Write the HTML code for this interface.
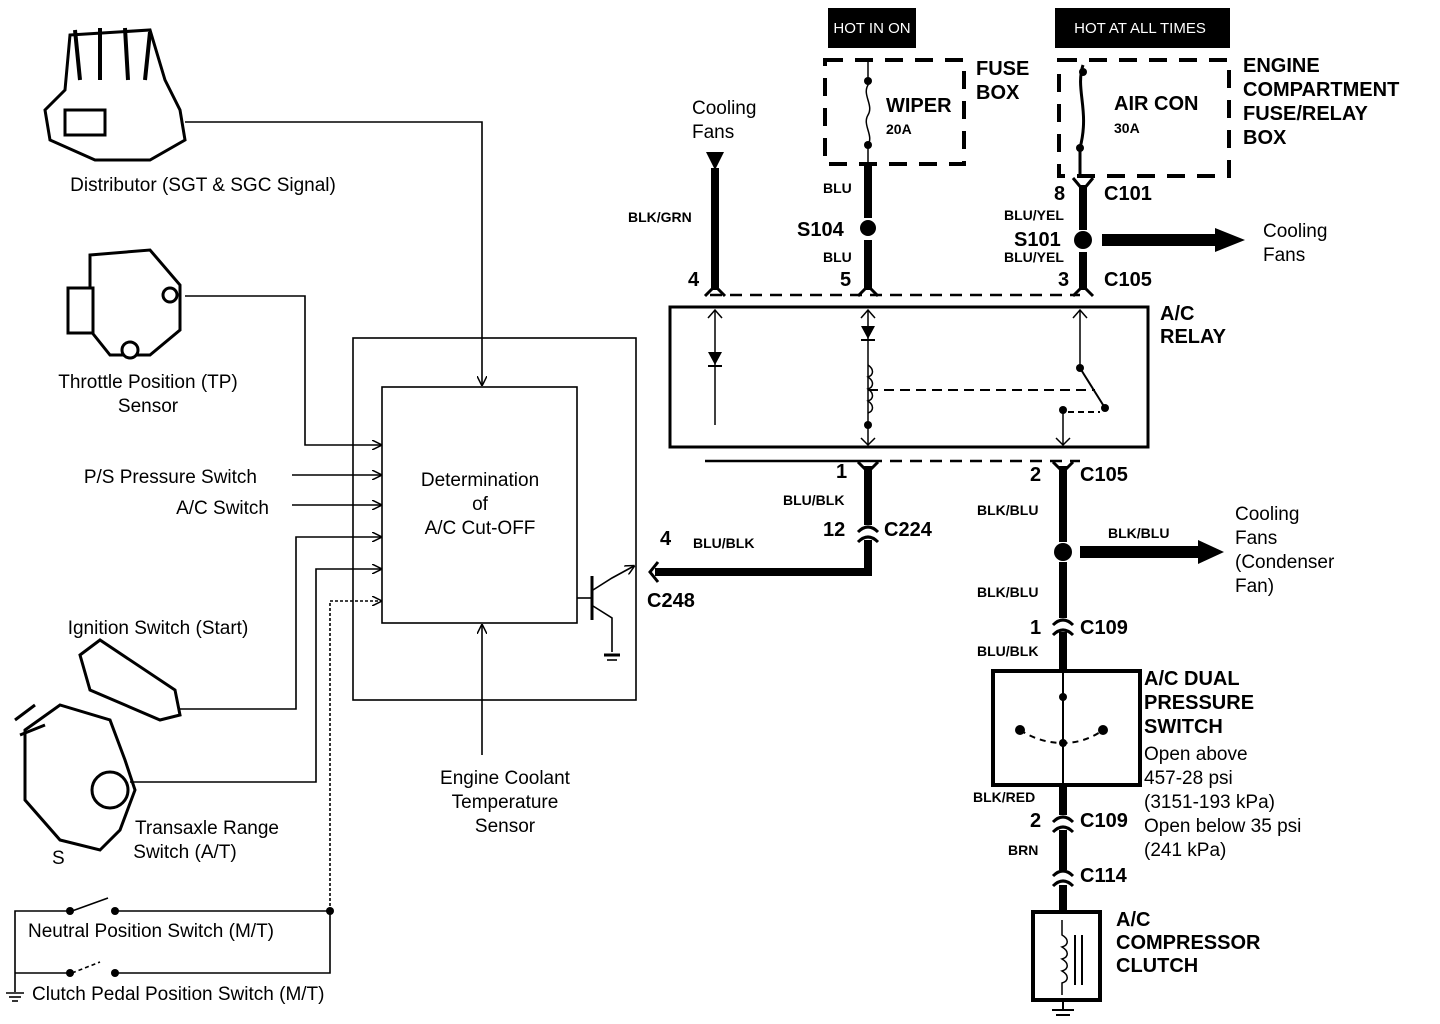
<!DOCTYPE html>
<html><head><meta charset="utf-8"><style>
body{margin:0;background:#fff}
svg{display:block}
text{font-family:"Liberation Sans",Arial,sans-serif;fill:#000}
.b{font-weight:bold;font-size:20px}
.w{font-weight:bold;font-size:14px}
.n{font-size:19px}
.t{font-size:15px;fill:#fff}
</style></head><body>
<svg width="1440" height="1024" viewBox="0 0 1440 1024" xmlns="http://www.w3.org/2000/svg">
<defs>
<marker id="a" markerWidth="10" markerHeight="10" refX="9" refY="5" orient="auto" markerUnits="userSpaceOnUse"><path d="M0,0 L10,5 L0,10" fill="none" stroke="#000" stroke-width="1.5"/></marker>
</defs>
<g fill="none" stroke="#000" stroke-width="1.6">
<!-- left component images (approx line art) -->
<g fill="#fff" stroke="#000" stroke-width="3">
<path d="M70,35 L150,30 L165,80 L180,110 L185,140 L150,160 L95,160 L50,140 L45,110 L65,90 Z"/>
<path d="M75,30 L80,80 M100,28 L100,80 M125,28 L128,80 M150,32 L145,80" stroke-width="4"/>
<rect x="65" y="110" width="40" height="25"/>
<path d="M90,255 L150,250 L180,285 L180,330 L150,355 L110,355 L90,330 Z"/>
<rect x="68" y="288" width="25" height="45"/>
<circle cx="130" cy="350" r="8"/><circle cx="170" cy="295" r="7"/>
<path d="M80,655 L100,640 L175,690 L180,715 L160,720 L90,690 Z"/>
<path d="M25,730 L60,705 L110,720 L125,760 L135,790 L120,830 L100,850 L60,840 L25,800 Z"/>
<circle cx="110" cy="790" r="18"/>
<path d="M15,720 L35,705 M20,735 L45,725"/>
</g>
<!-- wires to ECM -->
<polyline points="185,122 482,122 482,385" marker-end="url(#a)"/>
<polyline points="185,296 305,296 305,445 381,445" marker-end="url(#a)"/>
<line x1="292" y1="475" x2="381" y2="475" marker-end="url(#a)"/>
<line x1="292" y1="505" x2="381" y2="505" marker-end="url(#a)"/>
<polyline points="180,709 296,709 296,537 381,537" marker-end="url(#a)"/>
<polyline points="130,782 316,782 316,569 381,569" marker-end="url(#a)"/>
<polyline points="330,911 330,601 381,601" stroke-dasharray="3,2" marker-end="url(#a)"/>
<polyline points="330,911 330,973 115,973"/>
<line x1="115" y1="911" x2="330" y2="911"/>
<polyline points="70,911 15,911 15,992"/>
<line x1="15" y1="973" x2="70" y2="973"/>
<line x1="72" y1="911" x2="108" y2="898"/>
<line x1="72" y1="973" x2="100" y2="962" stroke-dasharray="4,3"/>
<line x1="6" y1="993" x2="24" y2="993"/><line x1="9" y1="997" x2="21" y2="997"/><line x1="12" y1="1001" x2="18" y2="1001"/>
<!-- ECM boxes -->
<rect x="353" y="338" width="283" height="362"/>
<rect x="382" y="387" width="195" height="236"/>
<line x1="482" y1="755" x2="482" y2="625" marker-end="url(#a)"/>
<!-- transistor -->
<line x1="577" y1="598" x2="591" y2="598"/>
<line x1="592" y1="576" x2="592" y2="620" stroke-width="3"/>
<polyline points="593,590 612,578 634,566" marker-end="url(#a)"/>
<polyline points="593,606 612,618 612,652"/>
<line x1="604" y1="655" x2="620" y2="655" stroke-width="3"/><line x1="607" y1="660" x2="617" y2="660"/>
</g>
<g fill="#000">
<circle cx="70" cy="911" r="4"/><circle cx="115" cy="911" r="4"/>
<circle cx="70" cy="973" r="4"/><circle cx="115" cy="973" r="4"/>
<circle cx="330" cy="911" r="4"/>
</g>
<!-- left labels -->
<text class="n" x="203" y="191" text-anchor="middle">Distributor (SGT &amp; SGC Signal)</text>
<text class="n" x="148" y="388" text-anchor="middle">Throttle Position (TP)</text>
<text class="n" x="148" y="412" text-anchor="middle">Sensor</text>
<text class="n" x="257" y="483" text-anchor="end">P/S Pressure Switch</text>
<text class="n" x="269" y="514" text-anchor="end">A/C Switch</text>
<text class="n" x="158" y="634" text-anchor="middle">Ignition Switch (Start)</text>
<text class="n" x="207" y="834" text-anchor="middle">Transaxle Range</text>
<text class="n" x="185" y="858" text-anchor="middle">Switch (A/T)</text>
<text class="n" x="52" y="864">S</text>
<text class="n" x="28" y="937">Neutral Position Switch (M/T)</text>
<text class="n" x="32" y="1000">Clutch Pedal Position Switch (M/T)</text>
<text class="n" x="480" y="486" text-anchor="middle">Determination</text>
<text class="n" x="480" y="510" text-anchor="middle">of</text>
<text class="n" x="480" y="534" text-anchor="middle">A/C Cut-OFF</text>
<text class="n" x="505" y="784" text-anchor="middle">Engine Coolant</text>
<text class="n" x="505" y="808" text-anchor="middle">Temperature</text>
<text class="n" x="505" y="832" text-anchor="middle">Sensor</text>

<!-- right side -->
<rect x="828" y="8" width="88" height="40" fill="#000"/>
<text class="t" x="872" y="33" text-anchor="middle">HOT IN ON</text>
<rect x="1055" y="8" width="175" height="40" fill="#000"/>
<text class="t" x="1140" y="33" text-anchor="middle">HOT AT ALL TIMES</text>
<g fill="none" stroke="#000">
<rect x="825" y="60" width="139" height="104" stroke-width="4" stroke-dasharray="18,12"/>
<rect x="1059" y="60" width="170" height="116" stroke-width="4" stroke-dasharray="18,12"/>
<path d="M868,60 L868,85 C862,95 874,105 868,115 C862,125 874,135 868,145 L868,165" stroke-width="1.5"/>
<path d="M1083,65 C1075,90 1090,110 1080,148 L1080,175" stroke-width="3"/>
<!-- thick wires -->
<line x1="715" y1="168" x2="715" y2="290" stroke-width="8"/>
<line x1="868" y1="165" x2="868" y2="218" stroke-width="8"/>
<line x1="868" y1="240" x2="868" y2="290" stroke-width="8"/>
<line x1="1083" y1="185" x2="1083" y2="230" stroke-width="8"/>
<line x1="1083" y1="252" x2="1083" y2="290" stroke-width="8"/>
<line x1="1102" y1="240" x2="1218" y2="240" stroke-width="12"/>
<line x1="710" y1="295" x2="1080" y2="295" stroke-width="2.5" stroke-dasharray="12,8"/>
<rect x="670" y="307" width="478" height="140" stroke-width="3"/>
<line x1="705" y1="461" x2="870" y2="461" stroke-width="2.5"/>
<line x1="870" y1="461" x2="1080" y2="461" stroke-width="2.5" stroke-dasharray="12,8"/>
<!-- relay internals -->
<line x1="715" y1="310" x2="715" y2="425" stroke-width="1.5"/>
<polyline points="708,318 715,310 722,318" stroke-width="1.5"/>
<line x1="868" y1="310" x2="868" y2="445" stroke-width="1.5"/>
<polyline points="861,318 868,310 875,318" stroke-width="1.5"/>
<polyline points="861,438 868,445 875,438" stroke-width="1.5"/>
<path d="M868,365 c6,4 6,10 0,12 c6,4 6,10 0,12 c6,4 6,10 0,12 c6,4 6,10 0,12" stroke-width="1.5"/>
<line x1="868" y1="390" x2="1095" y2="390" stroke-width="2" stroke-dasharray="10,6"/>
<line x1="1080" y1="310" x2="1080" y2="368" stroke-width="1.5"/>
<polyline points="1073,318 1080,310 1087,318" stroke-width="1.5"/>
<line x1="1080" y1="368" x2="1105" y2="408" stroke-width="2"/>
<line x1="1063" y1="410" x2="1063" y2="445" stroke-width="1.5"/>
<polyline points="1056,438 1063,445 1070,438" stroke-width="1.5"/>
<line x1="1068" y1="412" x2="1100" y2="412" stroke-width="2" stroke-dasharray="6,4"/>
<!-- lower wires -->
<line x1="868" y1="466" x2="868" y2="525" stroke-width="8"/>
<line x1="868" y1="540" x2="868" y2="572" stroke-width="8"/>
<line x1="655" y1="572" x2="872" y2="572" stroke-width="8"/>
<line x1="1063" y1="466" x2="1063" y2="542" stroke-width="8"/>
<line x1="1063" y1="562" x2="1063" y2="618" stroke-width="8"/>
<line x1="1063" y1="632" x2="1063" y2="671" stroke-width="8"/>
<line x1="1080" y1="552" x2="1200" y2="552" stroke-width="12"/>
<rect x="993" y="671" width="147" height="114" stroke-width="4"/>
<line x1="1063" y1="671" x2="1063" y2="785" stroke-width="2"/>
<path d="M1020,730 Q1040,743 1063,743 Q1085,743 1103,730" stroke-width="2" stroke-dasharray="6,5"/>
<line x1="1063" y1="785" x2="1063" y2="815" stroke-width="8"/>
<line x1="1063" y1="830" x2="1063" y2="870" stroke-width="8"/>
<line x1="1063" y1="885" x2="1063" y2="912" stroke-width="8"/>
<rect x="1033" y="912" width="67" height="88" stroke-width="4"/>
<path d="M1062,920 L1062,935 c7,4 7,10 0,12 c7,4 7,10 0,12 c7,4 7,10 0,12 c7,4 7,10 0,12 L1062,995" stroke-width="1.5"/>
<line x1="1075" y1="935" x2="1075" y2="985" stroke-width="2"/><line x1="1082" y1="935" x2="1082" y2="985" stroke-width="2"/>
<line x1="1063" y1="1000" x2="1063" y2="1010" stroke-width="2"/>
<line x1="1052" y1="1010" x2="1074" y2="1010" stroke-width="2"/><line x1="1056" y1="1015" x2="1070" y2="1015" stroke-width="2"/>
<!-- connector shapes -->
<g stroke-width="3">
<path d="M1073,178 L1083,190 L1093,178"/>
<path d="M1073,296 L1083,286 L1093,296"/>
<path d="M858,296 L868,286 L878,296"/>
<path d="M705,296 L715,286 L725,296"/>
<path d="M858,462 L868,472 L878,462"/>
<path d="M1053,462 L1063,472 L1073,462"/>
<path d="M858,532 Q868,522 878,532 M858,542 Q868,532 878,542"/>
<path d="M1053,625 Q1063,615 1073,625 M1053,635 Q1063,625 1073,635"/>
<path d="M1053,822 Q1063,812 1073,822 M1053,832 Q1063,822 1073,832"/>
<path d="M1053,876 Q1063,866 1073,876 M1053,886 Q1063,876 1073,886"/>
<path d="M658,562 L650,572 L658,582"/>
</g>
</g>
<g fill="#000">
<polygon points="706,152 724,152 715,170"/>
<circle cx="868" cy="228" r="8"/>
<circle cx="1083" cy="240" r="9"/>
<polygon points="1215,228 1245,240 1215,252"/>
<circle cx="1063" cy="552" r="9"/>
<polygon points="1198,540 1224,552 1198,564"/>
<circle cx="868" cy="81" r="4"/><circle cx="868" cy="145" r="4"/>
<circle cx="1083" cy="72" r="4"/><circle cx="1080" cy="148" r="4"/>
<polygon points="708,352 722,352 715,365"/><line x1="708" y1="366" x2="722" y2="366" stroke="#000" stroke-width="2"/>
<polygon points="861,326 875,326 868,339"/><line x1="861" y1="340" x2="875" y2="340" stroke="#000" stroke-width="2"/>
<circle cx="868" cy="425" r="4"/><circle cx="1080" cy="368" r="4"/><circle cx="1063" cy="410" r="4"/><circle cx="1105" cy="408" r="4"/>
<circle cx="1063" cy="697" r="4"/><circle cx="1020" cy="730" r="5"/><circle cx="1103" cy="730" r="5"/><circle cx="1063" cy="743" r="4"/>
</g>
<!-- right labels -->
<text class="b" x="976" y="75">FUSE</text><text class="b" x="976" y="99">BOX</text>
<text class="b" x="886" y="112">WIPER</text><text class="w" x="886" y="134" font-size="12">20A</text>
<text class="b" x="1114" y="110">AIR CON</text><text class="w" x="1114" y="133" font-size="12">30A</text>
<text class="b" x="1243" y="72" font-size="21">ENGINE</text><text class="b" x="1243" y="96" font-size="21">COMPARTMENT</text>
<text class="b" x="1243" y="120" font-size="21">FUSE/RELAY</text><text class="b" x="1243" y="144" font-size="21">BOX</text>
<text class="n" x="692" y="114">Cooling</text><text class="n" x="692" y="138">Fans</text>
<text class="w" x="628" y="222">BLK/GRN</text>
<text class="w" x="823" y="193">BLU</text>
<text class="b" x="797" y="236">S104</text>
<text class="w" x="823" y="262">BLU</text>
<text class="b" x="688" y="286">4</text><text class="b" x="840" y="286">5</text>
<text class="b" x="1054" y="200">8</text><text class="b" x="1104" y="200">C101</text>
<text class="w" x="1004" y="220">BLU/YEL</text>
<text class="b" x="1014" y="246">S101</text>
<text class="w" x="1004" y="262">BLU/YEL</text>
<text class="b" x="1058" y="286">3</text><text class="b" x="1104" y="286">C105</text>
<text class="n" x="1263" y="237">Cooling</text><text class="n" x="1263" y="261">Fans</text>
<text class="b" x="1160" y="320">A/C</text><text class="b" x="1160" y="343">RELAY</text>
<text class="b" x="836" y="478">1</text>
<text class="b" x="1030" y="481">2</text><text class="b" x="1080" y="481">C105</text>
<text class="w" x="783" y="505">BLU/BLK</text>
<text class="b" x="823" y="536">12</text><text class="b" x="884" y="536">C224</text>
<text class="b" x="660" y="545">4</text><text class="w" x="693" y="548">BLU/BLK</text>
<text class="b" x="647" y="607">C248</text>
<text class="w" x="977" y="515">BLK/BLU</text>
<text class="w" x="1108" y="538">BLK/BLU</text>
<text class="n" x="1235" y="520">Cooling</text><text class="n" x="1235" y="544">Fans</text>
<text class="n" x="1235" y="568">(Condenser</text><text class="n" x="1235" y="592">Fan)</text>
<text class="w" x="977" y="597">BLK/BLU</text>
<text class="b" x="1030" y="634">1</text><text class="b" x="1080" y="634">C109</text>
<text class="w" x="977" y="656">BLU/BLK</text>
<text class="b" x="1144" y="685">A/C DUAL</text><text class="b" x="1144" y="709">PRESSURE</text><text class="b" x="1144" y="733">SWITCH</text>
<text class="n" x="1144" y="760">Open above</text><text class="n" x="1144" y="784">457-28  psi</text>
<text class="n" x="1144" y="808">(3151-193  kPa)</text><text class="n" x="1144" y="832">Open below 35 psi</text>
<text class="n" x="1144" y="856">(241 kPa)</text>
<text class="w" x="973" y="802">BLK/RED</text>
<text class="b" x="1030" y="827">2</text><text class="b" x="1080" y="827">C109</text>
<text class="w" x="1008" y="855">BRN</text>
<text class="b" x="1080" y="882">C114</text>
<text class="b" x="1116" y="926">A/C</text><text class="b" x="1116" y="949">COMPRESSOR</text><text class="b" x="1116" y="972">CLUTCH</text>
</svg>
</body></html>
